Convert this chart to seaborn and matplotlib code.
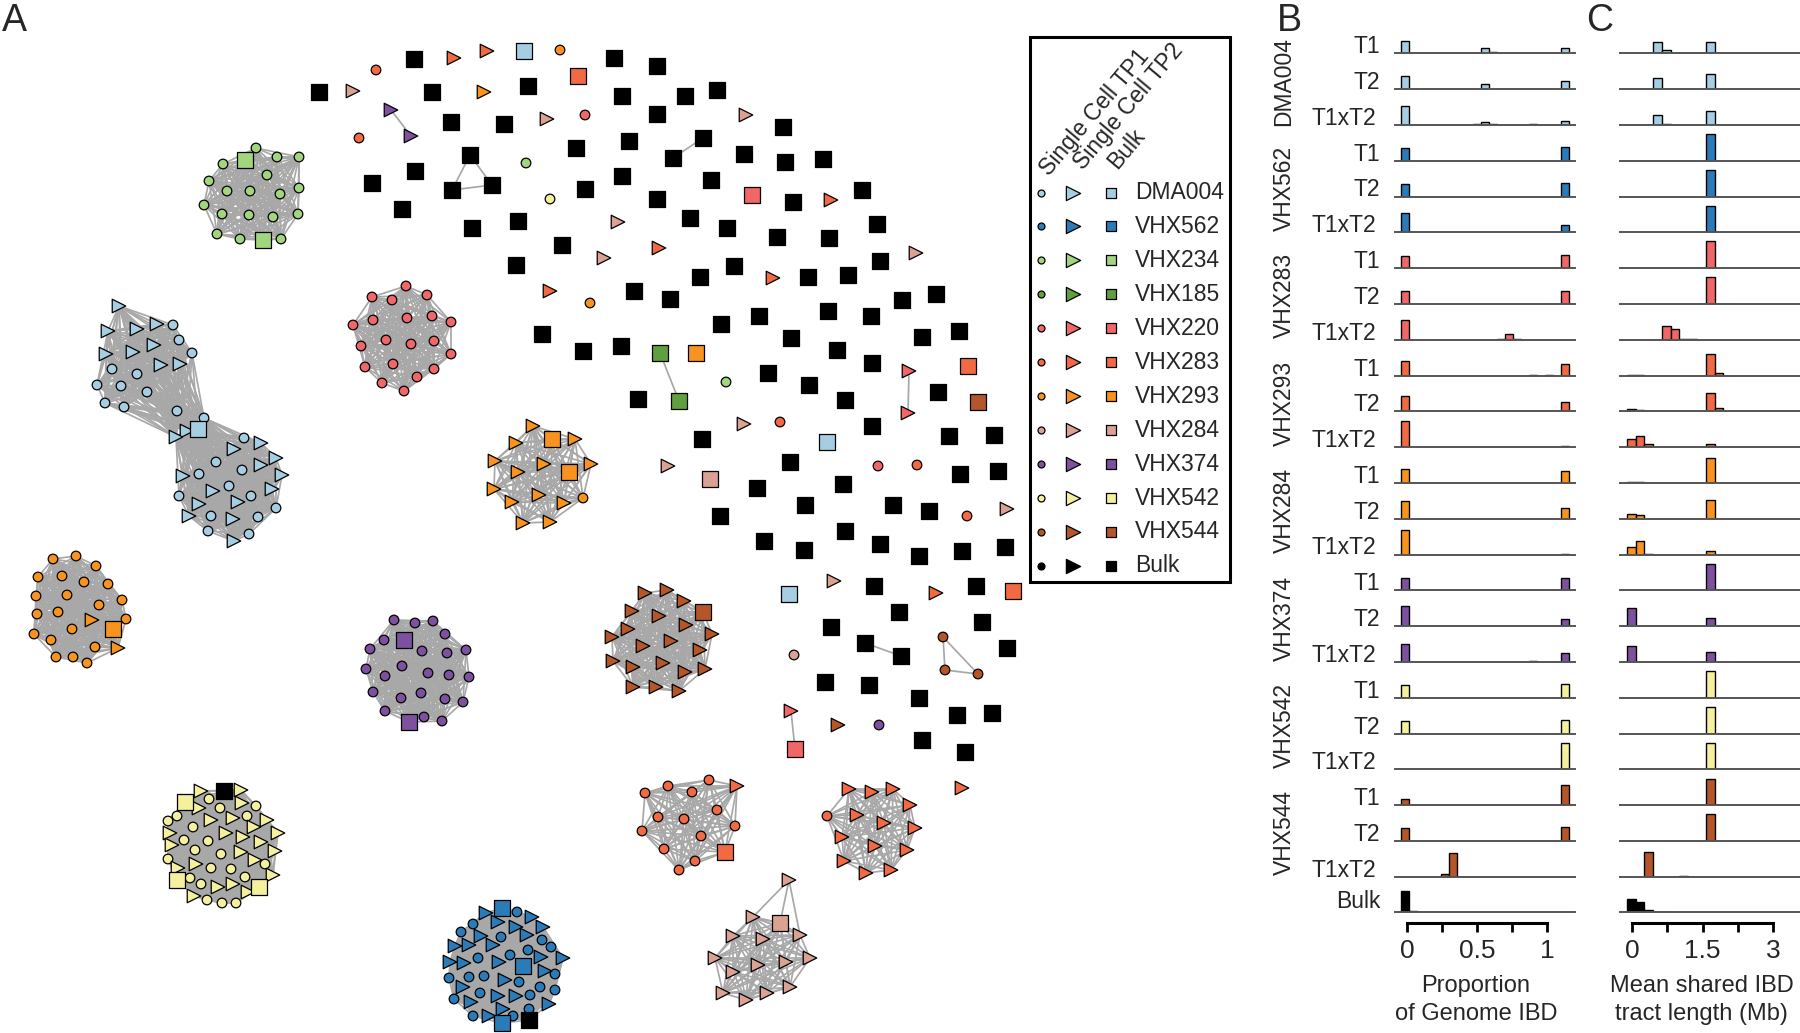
import numpy as np
import pandas as pd
import matplotlib
matplotlib.use('Agg')
import matplotlib.pyplot as plt
import seaborn as sns
from itertools import combinations
from matplotlib.collections import LineCollection
from matplotlib.patches import Rectangle

W, H = 1800, 1033

# samples and their colours (legend order)
samples = ['DMA004', 'VHX562', 'VHX234', 'VHX185', 'VHX220', 'VHX283',
           'VHX293', 'VHX284', 'VHX374', 'VHX542', 'VHX544', 'Bulk']
sample_colors = ['#a6cee3', '#2b7bb9', '#a1d57e', '#5f9f3e', '#f16667', '#f26a44',
                 '#f9931f', '#dba193', '#7d50a0', '#f5f09e', '#b4562a', '#000000']
palette = dict(zip(samples, sample_colors))

# ---------------- panel A: network layout (layout units = pixels) ----------------
# shape codes: c = single cell TP1, t = single cell TP2, s = bulk, k = bulk sample (black)
green = [(256, 148, 'c'), (277, 157, 'c'), (299, 157, 'c'), (223, 164, 'c'), (267, 175, 'c'),
         (209, 181, 'c'), (227, 191, 'c'), (250, 191, 'c'), (280, 194, 'c'), (299, 188, 'c'),
         (204, 205, 'c'), (222, 214, 'c'), (249, 215, 'c'), (273, 217, 'c'), (298, 214, 'c'),
         (217, 234, 'c'), (240, 239, 'c'), (281, 239, 'c'), (245, 160, 's'), (263, 240, 's')]

dma_upper = [(119, 306, 't'), (108, 331, 't'), (137, 329, 't'), (157, 324, 't'), (106, 354, 't'),
             (133, 352, 't'), (154, 345, 't'), (161, 365, 't'), (180, 364, 't'),
             (173, 325, 'c'), (179, 340, 'c'), (192, 353, 'c'), (112, 369, 'c'), (137, 374, 'c'),
             (97, 385, 'c'), (121, 386, 'c'), (147, 392, 'c'), (105, 403, 'c'), (124, 407, 'c'),
             (177, 411, 'c')]
dma_bridge = [(204, 418, 'c'), (187, 431, 't'), (176, 437, 't'), (198, 429, 's')]
dma_lower = [(244, 438, 'c'), (216, 462, 'c'), (242, 470, 'c'), (199, 474, 'c'), (229, 486, 'c'),
             (179, 496, 'c'), (251, 496, 'c'), (276, 508, 'c'), (211, 516, 'c'), (258, 517, 'c'),
             (208, 531, 'c'), (249, 534, 'c'),
             (261, 443, 't'), (234, 449, 't'), (276, 458, 't'), (261, 465, 't'), (282, 475, 't'),
             (183, 476, 't'), (213, 491, 't'), (272, 489, 't'), (238, 502, 't'), (199, 504, 't'),
             (189, 516, 't'), (233, 519, 't'), (234, 541, 't')]

orange_left = [(53, 559, 'c'), (76, 556, 'c'), (96, 566, 'c'), (38, 577, 'c'), (62, 576, 'c'),
               (84, 582, 'c'), (108, 584, 'c'), (36, 596, 'c'), (67, 595, 'c'), (122, 600, 'c'),
               (99, 605, 'c'), (37, 614, 'c'), (58, 612, 'c'), (126, 619, 'c'), (72, 629, 'c'),
               (34, 634, 'c'), (51, 640, 'c'), (95, 647, 'c'), (56, 657, 'c'), (73, 657, 'c'),
               (87, 663, 'c'), (92, 620, 't'), (118, 648, 't'), (113, 629, 's')]

purple = [(394, 620, 'c'), (415, 623, 'c'), (433, 621, 'c'), (384, 640, 'c'), (445, 634, 'c'),
          (370, 649, 'c'), (422, 651, 'c'), (447, 653, 'c'), (466, 650, 'c'), (366, 669, 'c'),
          (402, 666, 'c'), (428, 673, 'c'), (385, 676, 'c'), (449, 675, 'c'), (469, 677, 'c'),
          (373, 692, 'c'), (401, 698, 'c'), (421, 693, 'c'), (445, 699, 'c'), (463, 702, 'c'),
          (385, 711, 'c'), (424, 717, 'c'), (442, 721, 'c'), (404, 640, 's'), (409, 722, 's')]

yellow = [(209, 799, 'c'), (256, 806, 'c'), (177, 816, 'c'), (220, 808, 'c'), (247, 816, 'c'),
          (168, 821, 'c'), (193, 827, 'c'), (184, 840, 'c'), (208, 841, 'c'), (195, 850, 'c'),
          (221, 854, 'c'), (168, 859, 'c'), (265, 864, 'c'), (211, 868, 'c'), (231, 869, 'c'),
          (190, 878, 'c'), (245, 877, 'c'), (201, 884, 'c'), (207, 900, 'c'), (222, 903, 'c'),
          (236, 903, 'c'),
          (201, 791, 't'), (241, 790, 't'), (199, 808, 't'), (242, 803, 't'), (211, 820, 't'),
          (233, 818, 't'), (267, 820, 't'), (254, 827, 't'), (170, 833, 't'), (226, 833, 't'),
          (278, 833, 't'), (243, 837, 't'), (172, 845, 't'), (261, 842, 't'), (275, 851, 't'),
          (241, 852, 't'), (255, 860, 't'), (196, 864, 't'), (178, 868, 't'), (273, 875, 't'),
          (218, 887, 't'), (233, 884, 't'), (194, 896, 't'), (248, 892, 't'),
          (185, 802, 's'), (177, 880, 's'), (259, 887, 's'), (224, 791, 'k')]

red = [(406, 286, 'c'), (372, 297, 'c'), (392, 300, 'c'), (427, 295, 'c'), (373, 320, 'c'),
       (407, 318, 'c'), (432, 316, 'c'), (451, 322, 'c'), (353, 325, 'c'), (386, 340, 'c'),
       (411, 344, 'c'), (434, 341, 'c'), (361, 346, 'c'), (451, 354, 'c'), (393, 364, 'c'),
       (365, 367, 'c'), (434, 369, 'c'), (417, 377, 'c'), (382, 383, 'c'), (404, 391, 'c')]

orange_mid = [(533, 426, 't'), (516, 443, 't'), (575, 439, 't'), (495, 461, 't'), (544, 464, 't'),
              (518, 472, 't'), (591, 464, 't'), (494, 489, 't'), (539, 495, 't'), (512, 502, 't'),
              (564, 503, 't'), (523, 523, 't'), (550, 522, 't'), (583, 498, 'c'),
              (552, 439, 's'), (569, 472, 's')]

blue = [(517, 912, 'c'), (473, 924, 'c'), (461, 932, 'c'), (501, 937, 'c'), (542, 940, 'c'),
        (551, 947, 'c'), (510, 955, 'c'), (528, 950, 'c'), (478, 958, 'c'), (449, 978, 'c'),
        (469, 977, 'c'), (484, 976, 'c'), (555, 974, 'c'), (519, 982, 'c'), (480, 993, 'c'),
        (540, 987, 'c'), (555, 990, 'c'), (454, 999, 'c'), (530, 995, 'c'), (529, 1009, 'c'),
        (473, 1016, 'c'), (513, 1016, 'c'),
        (486, 913, 't'), (532, 917, 't'), (498, 922, 't'), (543, 927, 't'), (516, 927, 't'),
        (481, 936, 't'), (527, 935, 't'), (455, 946, 't'), (469, 945, 't'), (493, 945, 't'),
        (541, 957, 't'), (563, 958, 't'), (450, 962, 't'), (464, 963, 't'), (499, 962, 't'),
        (545, 971, 't'), (505, 980, 't'), (463, 987, 't'), (498, 996, 't'), (516, 996, 't'),
        (471, 1002, 't'), (503, 1009, 't'), (549, 1004, 't'), (489, 1016, 't'),
        (502, 908, 's'), (523, 966, 's'), (502, 1023, 's'), (529, 1020, 'k')]

brown = [(645, 593, 't'), (667, 590, 't'), (684, 601, 't'), (632, 611, 't'), (659, 616, 't'),
         (628, 629, 't'), (686, 625, 't'), (712, 634, 't'), (612, 637, 't'), (643, 646, 't'),
         (671, 641, 't'), (700, 650, 't'), (613, 661, 't'), (633, 667, 't'), (663, 663, 't'),
         (685, 672, 't'), (705, 669, 't'), (633, 687, 't'), (656, 687, 't'), (679, 691, 't'),
         (703, 612, 's')]

v283_tp1 = [(645, 793, 'c'), (668, 786, 'c'), (692, 792, 'c'), (709, 780, 'c'), (658, 817, 'c'),
            (684, 819, 'c'), (717, 810, 'c'), (642, 831, 'c'), (735, 826, 'c'), (701, 836, 'c'),
            (664, 849, 'c'), (695, 861, 'c'), (679, 870, 'c'), (737, 786, 't'), (725, 852, 's')]

v283_tp2 = [(827, 816, 'c'), (849, 789, 't'), (872, 792, 't'), (893, 789, 't'), (910, 805, 't'),
            (857, 815, 't'), (884, 823, 't'), (915, 828, 't'), (842, 837, 't'), (875, 846, 't'),
            (907, 850, 't'), (844, 861, 't'), (866, 873, 't'), (891, 870, 't')]

salmon = [(753, 917, 't'), (733, 936, 't'), (763, 939, 't'), (800, 935, 't'), (715, 958, 't'),
          (733, 972, 't'), (758, 965, 't'), (786, 962, 't'), (810, 958, 't'), (723, 993, 't'),
          (746, 1000, 't'), (767, 993, 't'), (790, 987, 't'), (780, 923, 's')]
salmon_top = [(789, 880, 't')]

# small connected components
purple_pair = [(391, 110, 't'), (411, 136, 't')]
bulk_trio = [(470, 155, 's'), (452, 190, 's'), (492, 185, 's')]
bulk_pair_top = [(673, 158, 's'), (703, 138, 's')]
v185_pair = [(660, 353, 's'), (679, 401, 's')]
v220_pair_top = [(909, 371, 't'), (908, 413, 't')]
bulk_pair_low = [(865, 643, 's'), (901, 656, 's')]
v544_trio = [(943, 637, 'c'), (945, 670, 'c'), (978, 674, 'c')]
v220_pair_low = [(791, 711, 't'), (795, 749, 's')]

# unconnected nodes
single_nodes = [(454, 58, 't', 'VHX283'), (487, 51, 't', 'VHX283'), (524, 51, 's', 'DMA004'),
                (560, 50, 'c', 'VHX293'), (376, 70, 'c', 'VHX283'), (578, 76, 's', 'VHX283'),
                (353, 91, 't', 'VHX284'), (484, 92, 't', 'VHX293'), (547, 119, 't', 'VHX284'),
                (585, 115, 'c', 'VHX220'), (746, 115, 't', 'VHX284'), (359, 138, 'c', 'VHX283'),
                (526, 163, 'c', 'VHX234'), (550, 199, 'c', 'VHX542'), (752, 195, 's', 'VHX220'),
                (831, 200, 't', 'VHX283'), (618, 222, 't', 'VHX284'), (659, 248, 't', 'VHX283'),
                (604, 258, 't', 'VHX284'), (916, 253, 't', 'VHX284'), (773, 278, 't', 'VHX283'),
                (550, 291, 't', 'VHX283'), (590, 303, 'c', 'VHX293'), (696, 353, 's', 'VHX293'),
                (726, 382, 'c', 'VHX234'), (968, 366, 's', 'VHX283'), (978, 402, 's', 'VHX544'),
                (744, 424, 't', 'VHX284'), (780, 422, 'c', 'VHX283'), (827, 442, 's', 'DMA004'),
                (668, 466, 't', 'VHX284'), (710, 479, 's', 'VHX284'), (878, 466, 'c', 'VHX220'),
                (917, 465, 'c', 'VHX283'), (967, 516, 'c', 'VHX283'), (1007, 509, 't', 'VHX284'),
                (834, 581, 't', 'VHX284'), (789, 594, 's', 'DMA004'), (936, 593, 't', 'VHX283'),
                (1013, 591, 's', 'VHX283'), (794, 655, 'c', 'VHX284'), (838, 725, 't', 'VHX544'),
                (879, 725, 'c', 'VHX374'), (962, 788, 't', 'VHX283')]

single_bulk = [(414, 59), (614, 58), (657, 66), (319, 92), (432, 92), (528, 86), (622, 96), (685, 96),
               (717, 90), (451, 122), (504, 124), (657, 114), (783, 127), (415, 171), (372, 183),
               (402, 209), (576, 148), (629, 141), (744, 154), (785, 162), (823, 159), (622, 176),
               (711, 180), (585, 189), (657, 199), (793, 202), (862, 190), (472, 228), (518, 221),
               (690, 218), (727, 228), (777, 237), (829, 238), (877, 224), (562, 245), (516, 265),
               (734, 266), (700, 277), (808, 277), (848, 275), (880, 261), (634, 291), (670, 299),
               (902, 300), (936, 294), (721, 324), (759, 316), (828, 311), (871, 316), (791, 338),
               (922, 337), (959, 331), (542, 334), (583, 351), (621, 346), (837, 350), (638, 399),
               (768, 373), (809, 385), (872, 363), (938, 392), (845, 400), (702, 439), (872, 426),
               (949, 436), (994, 435), (790, 462), (960, 474), (998, 471), (757, 488), (843, 484),
               (720, 516), (805, 505), (893, 505), (929, 511), (764, 541), (804, 550), (845, 531),
               (880, 544), (919, 556), (962, 551), (1005, 547), (874, 586), (976, 586), (899, 612),
               (831, 627), (982, 622), (1007, 648), (825, 682), (869, 685), (919, 698), (957, 715),
               (992, 713), (922, 740), (965, 752)]

# ---------------- panel B: proportion of genome IBD ----------------
group_names = ['DMA004', 'VHX562', 'VHX283', 'VHX293', 'VHX284', 'VHX374', 'VHX542', 'VHX544']
row_names = ['T1', 'T2', 'T1xT2'] * 8 + ['Bulk']
group_fill = ['#a6cee3', '#2b7bb9', '#f16667', '#f26a44', '#f9931f', '#7d50a0', '#f5f09e', '#b4562a']

ibd_bins = [round(-0.043 + 0.057 * k, 4) for k in range(24)]
ibd_zero_x = -0.015
ibd_clonal_x = 1.125
ibd_zero = [0.42, 0.43, 0.62, 0.43, 0.42, 0.66, 0.41, 0.44, 0.64, 0.49, 0.51, 0.86, 0.46,
            0.58, 0.83, 0.42, 0.66, 0.60, 0.42, 0.42, 0.00, 0.19, 0.42, 0.00, 0.73]
ibd_clonal = [0.19, 0.27, 0.12, 0.47, 0.46, 0.23, 0.44, 0.44, 0.00, 0.37, 0.30, 0.03, 0.41,
              0.35, 0.03, 0.42, 0.23, 0.28, 0.45, 0.45, 0.88, 0.66, 0.45, 0.00, 0.00]
ibd_extra_row = [0, 0, 0, 0, 1, 1, 1, 2, 2, 2, 2, 8, 8, 8, 9, 9, 10, 10, 15, 17, 23, 23, 24, 24, 24, 24]
ibd_extra_x = [0.556, 0.499, 0.613, 0.727, 0.556, 0.90, 1.01, 0.556, 0.499, 0.613, 0.90,
               0.742, 0.685, 0.80, 0.90, 1.01, 0.90, 1.01, 1.06, 0.90, 0.271, 0.328,
               0.043, 0.10, 0.157, 0.214]
ibd_extra_h = [0.16, 0.02, 0.03, 0.02, 0.16, 0.015, 0.015, 0.09, 0.02, 0.02, 0.015,
               0.20, 0.02, 0.02, 0.015, 0.015, 0.015, 0.015, 0.02, 0.015, 0.09, 0.79,
               0.05, 0.02, 0.01, 0.01]

# ---------------- panel C: mean shared IBD tract length (Mb) ----------------
tract_bins = [round(-0.11 + 0.1867 * k, 4) for k in range(21)]
tract_peak_x = 1.663
tract_peak = [0.39, 0.50, 0.46, 0.88, 0.87, 0.89, 0.89, 0.89, 0.00, 0.73, 0.62, 0.09, 0.82,
              0.62, 0.12, 0.88, 0.28, 0.34, 0.88, 0.88, 0.88, 0.87, 0.88, 0.00, 0.00]
tract_extra_row = [0, 0, 1, 1, 2, 2, 2, 8, 8, 8, 8, 9, 9, 9, 10, 10, 10, 11, 11, 11, 11,
                   12, 12, 13, 13, 14, 14, 14, 16, 17, 23, 23, 24, 24, 24, 24, 24]
tract_extra_x = [0.543, 0.730, 0.543, 0.730, 0.543, 0.730, 0.917, 0.730, 0.917, 1.103, 1.290,
                 -0.017, 0.170, 1.850, -0.017, 0.170, 1.850, -0.017, 0.170, 0.357, 1.850,
                 -0.017, 0.170, -0.017, 0.170, -0.017, 0.170, 0.357, -0.017, -0.017, 0.357, 1.103,
                 -0.017, 0.170, 0.357, 0.543, 0.730]
tract_extra_h = [0.36, 0.11, 0.36, 0.02, 0.34, 0.04, 0.01, 0.44, 0.34, 0.02, 0.03,
                 0.03, 0.02, 0.09, 0.08, 0.04, 0.11, 0.28, 0.38, 0.09, 0.01,
                 0.03, 0.02, 0.17, 0.11, 0.24, 0.45, 0.02, 0.59, 0.54, 0.83, 0.02,
                 0.45, 0.34, 0.08, 0.03, 0.02]


def fx(px):
    return px / W


def fy(py):
    return 1 - py / H


sns.set_theme(style='white')
plt.rcParams['font.family'] = ['Liberation Sans', 'DejaVu Sans']

fig = plt.figure(figsize=(W / 100, H / 100), dpi=100)

# ---------------- panel A ----------------
ax = fig.add_axes([0, 0, 1240 / W, 1])
ax.set_xlim(0, 1240)
ax.set_ylim(H, 0)
ax.axis('off')

clusters = [(green, 'VHX234'), (dma_upper, 'DMA004'), (dma_bridge, 'DMA004'), (dma_lower, 'DMA004'),
            (orange_left, 'VHX293'), (purple, 'VHX374'), (yellow, 'VHX542'), (red, 'VHX220'),
            (orange_mid, 'VHX293'), (blue, 'VHX562'), (brown, 'VHX544'), (v283_tp1, 'VHX283'),
            (v283_tp2, 'VHX283'), (salmon, 'VHX284'), (salmon_top, 'VHX284'),
            (purple_pair, 'VHX374'), (bulk_trio, 'Bulk'), (bulk_pair_top, 'Bulk'),
            (v185_pair, 'VHX185'), (v220_pair_top, 'VHX220'), (bulk_pair_low, 'Bulk'),
            (v544_trio, 'VHX544'), (v220_pair_low, 'VHX220')]

edge_groups = [green, dma_upper + dma_bridge, dma_lower + dma_bridge, orange_left, purple, yellow,
               red, orange_mid, blue, brown, v283_tp1, v283_tp2, salmon,
               salmon_top + [salmon[0], salmon[3], salmon[13]],
               purple_pair, bulk_trio, bulk_pair_top, v185_pair, v220_pair_top, bulk_pair_low,
               v544_trio, v220_pair_low]

segs = []
for grp in edge_groups:
    for a, b in combinations(grp, 2):
        segs.append([(a[0], a[1]), (b[0], b[1])])
ax.add_collection(LineCollection(segs, colors='#a8a8a8', linewidths=1.25, zorder=1))

rows = []
for nodes, smp in clusters:
    for x, y, shp in nodes:
        if shp == 'k':
            rows.append((x, y, 's', 'Bulk'))
        else:
            rows.append((x, y, shp, smp))
rows += single_nodes
rows += [(x, y, 's', 'Bulk') for x, y in single_bulk]
nodes_df = pd.DataFrame(rows, columns=['x', 'y', 'shape', 'sample'])

sns.scatterplot(data=nodes_df, x='x', y='y', hue='sample', palette=palette,
                style='shape', markers={'c': 'o', 't': '>', 's': 's'},
                size='shape', sizes={'c': 48, 't': 95, 's': 125},
                edgecolor='black', linewidth=0.9, legend=False, ax=ax, zorder=3, clip_on=False)
ax.set_xlim(0, 1240)
ax.set_ylim(H, 0)

# legend box
ax.add_patch(Rectangle((1030, 37), 200, 545, fill=False, lw=2.2, ec='black', zorder=4))
for i, (smp, col) in enumerate(zip(samples, sample_colors)):
    yy = 192.5 + 33.95 * i
    ax.scatter(1041, yy, s=25, marker='o', color=col, edgecolors='black', linewidths=0.9, zorder=5)
    ax.scatter(1073, yy, s=105, marker='>', color=col, edgecolors='black', linewidths=0.9, zorder=5)
    ax.scatter(1111, yy, s=62, marker='s', color=col, edgecolors='black', linewidths=0.9, zorder=5)
    ax.text(1135, yy, smp, va='center', ha='left', fontsize=16.5)
for xx, yy, lab in [(1049, 177, 'Single Cell TP1'), (1083, 171, 'Single Cell TP2'), (1117, 170, 'Bulk')]:
    ax.text(xx, yy, lab, rotation=50, rotation_mode='anchor', ha='left', va='baseline', fontsize=16.5)

# ---------------- panels B and C ----------------
row_fill = [c for c in group_fill for _ in range(3)] + ['#000000']
B_XLIM = (-0.086, 1.2)
C_XLIM = (-0.255, 3.574)


def style_row(a, xlim):
    for p in list(a.patches):
        if p.get_height() <= 0:
            p.remove()
    a.set_xlim(*xlim)
    a.set_ylim(0, 34 / 30)
    for side in ['top', 'left', 'right']:
        a.spines[side].set_visible(False)
    a.spines['bottom'].set_color('#555555')
    a.spines['bottom'].set_linewidth(1.4)
    a.set_xticks([])
    a.set_yticks([])
    a.set_xlabel('')
    a.set_ylabel('')
    a.patch.set_alpha(0)


for i in range(25):
    base = 53.3 + 35.8 * i
    # panel B row
    xs = [ibd_zero_x, ibd_clonal_x] + [x for r, x in zip(ibd_extra_row, ibd_extra_x) if r == i]
    hs = [ibd_zero[i], ibd_clonal[i]] + [h for r, h in zip(ibd_extra_row, ibd_extra_h) if r == i]
    keep = [(x, h) for x, h in zip(xs, hs) if h > 0]
    axb = fig.add_axes([fx(1395), fy(base), 180 / W, 34 / H])
    sns.histplot(x=[k[0] for k in keep], weights=[k[1] for k in keep], bins=ibd_bins,
                 color=row_fill[i], edgecolor='black', linewidth=1.0, alpha=1, ax=axb)
    style_row(axb, B_XLIM)

    # panel C row
    xs = [tract_peak_x] + [x for r, x in zip(tract_extra_row, tract_extra_x) if r == i]
    hs = [tract_peak[i]] + [h for r, h in zip(tract_extra_row, tract_extra_h) if r == i]
    keep = [(x, h) for x, h in zip(xs, hs) if h > 0]
    axc = fig.add_axes([fx(1620), fy(base), 180 / W, 34 / H])
    sns.histplot(x=[k[0] for k in keep], weights=[k[1] for k in keep], bins=tract_bins,
                 color=row_fill[i], edgecolor='black', linewidth=1.0, alpha=1, ax=axc)
    style_row(axc, C_XLIM)

    lab_y = base - 4 if row_names[i] == 'Bulk' else base
    lab_x = 1376 if row_names[i] == 'T1xT2' else 1380
    fig.text(fx(lab_x), fy(lab_y), row_names[i], ha='right', va='baseline', fontsize=16.5)

for g, name in enumerate(group_names):
    mid = 53.3 + 35.8 * (3 * g + 1)
    fig.text(fx(1284), fy(mid - 8), name, rotation=90, ha='center', va='center', fontsize=16.5)


def tick_axis(left, xlim, ticks, labels, bounds, xlabel, label_frac):
    a = fig.add_axes([fx(left), fy(923), 180 / W, 1 / H])
    a.set_xlim(*xlim)
    for side in ['top', 'left', 'right']:
        a.spines[side].set_visible(False)
    a.spines['bottom'].set_bounds(*bounds)
    a.spines['bottom'].set_linewidth(2.2)
    a.spines['bottom'].set_color('black')
    a.set_yticks([])
    a.set_xticks(ticks)
    a.set_xticklabels(labels)
    a.tick_params(axis='x', direction='out', length=6.5, width=2.0, color='black',
                  labelsize=19, pad=5, bottom=True)
    a.set_xlabel(xlabel, fontsize=17, labelpad=9, linespacing=1.3)
    a.xaxis.label.set_x(label_frac)
    a.patch.set_alpha(0)


tick_axis(1395, B_XLIM, [0, 0.25, 0.5, 0.75, 1], ['0', '', '0.5', '', '1'], (0, 1),
          'Proportion\nof Genome IBD', 0.45)
tick_axis(1620, C_XLIM, [0, 0.75, 1.5, 2.25, 3], ['0', '', '1.5', '', '3'], (0, 3),
          'Mean shared IBD\ntract length (Mb)', 0.455)

# panel letters
for xx, lab in [(14, 'A'), (1289, 'B'), (1600, 'C')]:
    fig.text(fx(xx), fy(21), lab, ha='center', va='center', fontsize=27)

fig.savefig('out.png', dpi=100)
